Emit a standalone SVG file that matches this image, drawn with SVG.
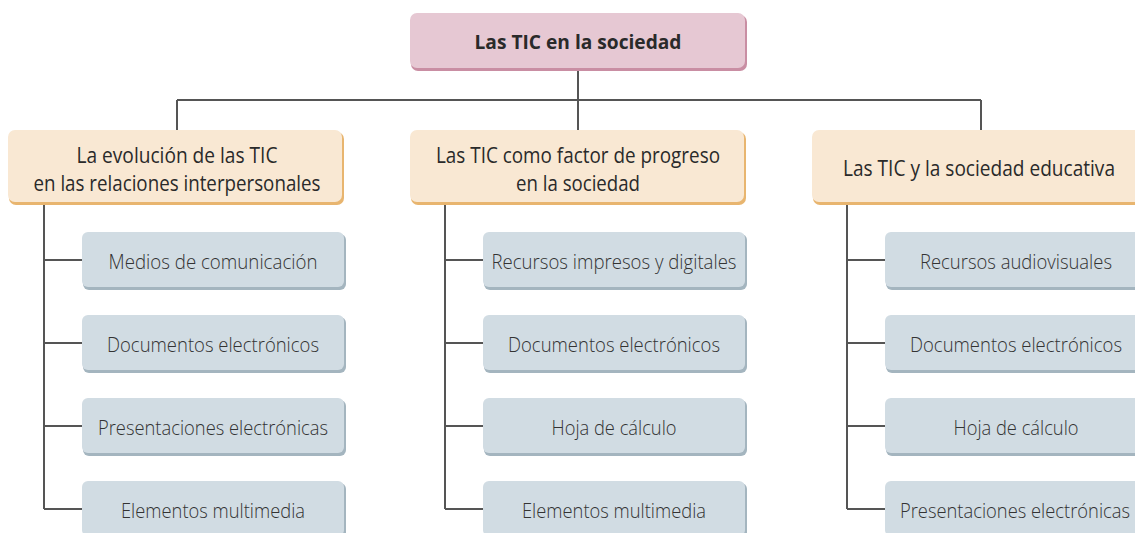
<svg xmlns="http://www.w3.org/2000/svg" width="1135" height="533" viewBox="0 0 1135 533">
<style>
.conn{stroke:#555;stroke-width:2;fill:none}
.t1{font-family:"Open Sans","Liberation Sans",sans-serif;font-weight:700;font-size:20px;fill:#2a2a2a;text-anchor:middle}
.t2{font-family:"Open Sans","Liberation Sans",sans-serif;font-weight:400;font-size:21px;fill:#2a2a2a;text-anchor:middle}
.t3{font-family:"Open Sans","Liberation Sans",sans-serif;font-weight:300;font-size:21px;fill:#333;text-anchor:middle}
.s1{fill:#c98ea3}.f1{fill:#e6c8d3}
.s2{fill:#e8b56f}.f2{fill:#f9e8d3}
.s3{fill:#a4b5bf}.f3{fill:#d1dce3}
</style>
<rect width="1135" height="533" fill="#fff"/>
<g id="connectors">
<path class="conn" d="M578 70V100M177 100H981M177 100V130M578 100V130M981 100V130"/>
<path class="conn" d="M44 204V509M44 260H82M44 343H82M44 426H82M44 509H82"/>
<path class="conn" d="M445 204V509M445 260H483M445 343H483M445 426H483M445 509H483"/>
<path class="conn" d="M847 204V509M847 260H885M847 343H885M847 426H885M847 509H885"/>
</g>
<g id="root">
<rect class="s1" x="411" y="15" width="336" height="56" rx="7"/>
<rect class="f1" x="410" y="13" width="335" height="55" rx="7"/>
<text class="t1" x="578" y="49" textLength="207" lengthAdjust="spacingAndGlyphs">Las TIC en la sociedad</text>
</g>
<g id="b1">
<rect class="s2" x="9" y="132" width="335" height="73" rx="7"/>
<rect class="f2" x="8" y="130" width="334" height="72" rx="7"/>
<text class="t2" x="177" y="163" textLength="201" lengthAdjust="spacingAndGlyphs">La evolución de las TIC</text>
<text class="t2" x="177" y="191" textLength="287" lengthAdjust="spacingAndGlyphs">en las relaciones interpersonales</text>
</g>
<g id="b2">
<rect class="s2" x="411" y="132" width="335" height="73" rx="7"/>
<rect class="f2" x="410" y="130" width="334" height="72" rx="7"/>
<text class="t2" x="578" y="163" textLength="284" lengthAdjust="spacingAndGlyphs">Las TIC como factor de progreso</text>
<text class="t2" x="578" y="191" textLength="124" lengthAdjust="spacingAndGlyphs">en la sociedad</text>
</g>
<g id="b3">
<path class="s2" d="M820 132H1135V205H820A7 7 0 0 1 813 198V139A7 7 0 0 1 820 132Z"/>
<path class="f2" d="M819 130H1135V202H819A7 7 0 0 1 812 195V137A7 7 0 0 1 819 130Z"/>
<text class="t2" x="979" y="176" textLength="272" lengthAdjust="spacingAndGlyphs">Las TIC y la sociedad educativa</text>
</g>
<g id="c1a"><rect class="s3" x="83" y="234" width="263" height="56" rx="6"/><rect class="f3" x="82" y="232" width="262" height="55" rx="6"/><text class="t3" x="213" y="269" textLength="209" lengthAdjust="spacingAndGlyphs">Medios de comunicación</text></g>
<g id="c1b"><rect class="s3" x="83" y="317" width="263" height="56" rx="6"/><rect class="f3" x="82" y="315" width="262" height="55" rx="6"/><text class="t3" x="213" y="352" textLength="212" lengthAdjust="spacingAndGlyphs">Documentos electrónicos</text></g>
<g id="c1c"><rect class="s3" x="83" y="400" width="263" height="56" rx="6"/><rect class="f3" x="82" y="398" width="262" height="55" rx="6"/><text class="t3" x="213" y="435" textLength="230" lengthAdjust="spacingAndGlyphs">Presentaciones electrónicas</text></g>
<g id="c1d"><rect class="s3" x="83" y="483" width="263" height="56" rx="6"/><rect class="f3" x="82" y="481" width="262" height="55" rx="6"/><text class="t3" x="213" y="518" textLength="184" lengthAdjust="spacingAndGlyphs">Elementos multimedia</text></g>
<g id="c2a"><rect class="s3" x="484" y="234" width="263" height="56" rx="6"/><rect class="f3" x="483" y="232" width="262" height="55" rx="6"/><text class="t3" x="614" y="269" textLength="245" lengthAdjust="spacingAndGlyphs">Recursos impresos y digitales</text></g>
<g id="c2b"><rect class="s3" x="484" y="317" width="263" height="56" rx="6"/><rect class="f3" x="483" y="315" width="262" height="55" rx="6"/><text class="t3" x="614" y="352" textLength="212" lengthAdjust="spacingAndGlyphs">Documentos electrónicos</text></g>
<g id="c2c"><rect class="s3" x="484" y="400" width="263" height="56" rx="6"/><rect class="f3" x="483" y="398" width="262" height="55" rx="6"/><text class="t3" x="614" y="435" textLength="125" lengthAdjust="spacingAndGlyphs">Hoja de cálculo</text></g>
<g id="c2d"><rect class="s3" x="484" y="483" width="263" height="56" rx="6"/><rect class="f3" x="483" y="481" width="262" height="55" rx="6"/><text class="t3" x="614" y="518" textLength="184" lengthAdjust="spacingAndGlyphs">Elementos multimedia</text></g>
<g id="c3a"><path class="s3" d="M892 234H1135V290H892A6 6 0 0 1 886 284V240A6 6 0 0 1 892 234Z"/><path class="f3" d="M891 232H1135V287H891A6 6 0 0 1 885 281V238A6 6 0 0 1 891 232Z"/><text class="t3" x="1016" y="269" textLength="192" lengthAdjust="spacingAndGlyphs">Recursos audiovisuales</text></g>
<g id="c3b"><path class="s3" d="M892 317H1135V373H892A6 6 0 0 1 886 367V323A6 6 0 0 1 892 317Z"/><path class="f3" d="M891 315H1135V370H891A6 6 0 0 1 885 364V321A6 6 0 0 1 891 315Z"/><text class="t3" x="1016" y="352" textLength="212" lengthAdjust="spacingAndGlyphs">Documentos electrónicos</text></g>
<g id="c3c"><path class="s3" d="M892 400H1135V456H892A6 6 0 0 1 886 450V406A6 6 0 0 1 892 400Z"/><path class="f3" d="M891 398H1135V453H891A6 6 0 0 1 885 447V404A6 6 0 0 1 891 398Z"/><text class="t3" x="1016" y="435" textLength="125" lengthAdjust="spacingAndGlyphs">Hoja de cálculo</text></g>
<g id="c3d"><path class="s3" d="M892 483H1135V539H892A6 6 0 0 1 886 533V489A6 6 0 0 1 892 483Z"/><path class="f3" d="M891 481H1135V536H891A6 6 0 0 1 885 530V487A6 6 0 0 1 891 481Z"/><text class="t3" x="1015" y="518" textLength="230" lengthAdjust="spacingAndGlyphs">Presentaciones electrónicas</text></g>
</svg>
